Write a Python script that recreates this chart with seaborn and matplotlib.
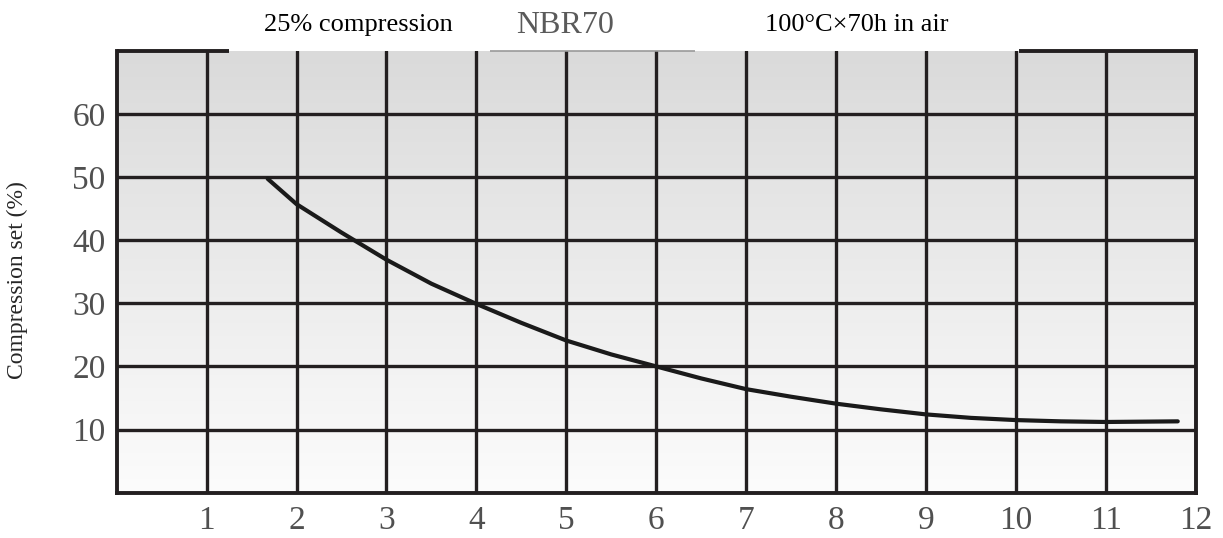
import numpy as np
import pandas as pd
import matplotlib
matplotlib.use("Agg")
import matplotlib.pyplot as plt
from matplotlib.colors import LinearSegmentedColormap
import seaborn as sns

# values
hours = [1.68, 2.0, 2.5, 3.0, 3.5, 4.0, 4.5, 5.0, 5.5, 6.0, 6.5, 7.0, 7.5,
         8.0, 8.5, 9.0, 9.5, 10.0, 10.5, 11.0, 11.8]
comp_set = [49.7, 45.7, 41.2, 36.9, 33.1, 29.9, 26.9, 24.1, 21.9, 20.0, 18.1,
            16.4, 15.2, 14.1, 13.2, 12.4, 11.85, 11.5, 11.3, 11.2, 11.3]
x_ticks = list(range(1, 13))
y_ticks = [10, 20, 30, 40, 50, 60]
titles = ["25% compression", "NBR70", "100\u00b0C\u00d770h in air"]
y_label = "Compression set (%)"

df = pd.DataFrame({"x": hours, "y": comp_set})

sns.set_theme(style="white")
plt.rcParams['font.family'] = ['Liberation Serif', 'DejaVu Serif']

fig = plt.figure(figsize=(12.23, 5.38), dpi=100)
ax = fig.add_axes([0.0954, 0.0842, 0.8823, 0.8216])

grid_col = '#231f20'

# grey-to-white background
bg_cmap = LinearSegmentedColormap.from_list('bg', ['#dadada', '#fcfcfc'])
grad = np.linspace(0, 1, 256).reshape(-1, 1)
ax.imshow(grad, extent=[0, 12, 0, 70], aspect='auto', cmap=bg_cmap,
          origin='upper', zorder=0)

sns.lineplot(data=df, x="x", y="y", ax=ax, color='#1a1a1a', lw=3, zorder=3)

ax.set_xlim(0, 12)
ax.set_ylim(0, 70)
ax.set_xticks(x_ticks)
ax.set_yticks(y_ticks)
ax.set_xticklabels([str(t) for t in x_ticks])
ax.set_yticklabels([str(t) for t in y_ticks])
ax.tick_params(axis='both', length=0, labelsize=24, labelcolor='#505050')
ax.tick_params(axis='x', pad=9)
ax.tick_params(axis='y', pad=8)
ax.set_xlabel('')
ax.set_ylabel('')

ax.set_axisbelow(True)
ax.grid(True, color=grid_col, lw=2.4)

for s in ['left', 'right', 'bottom']:
    ax.spines[s].set_color(grid_col)
    ax.spines[s].set_linewidth(2.8)
    ax.spines[s].set_zorder(4)
ax.spines['top'].set_visible(False)

# top border broken where the heading texts sit
ax.hlines(70, 0, 1.25, color=grid_col, lw=2.8, clip_on=False, zorder=4)
ax.hlines(70, 4.15, 6.43, color='#9a9a9a', lw=1.2, clip_on=False, zorder=4)
ax.hlines(70, 10.03, 12, color=grid_col, lw=2.8, clip_on=False, zorder=4)

fig.text(0.2927, 0.953, titles[0], ha='center', va='center', fontsize=19, color='black')
fig.text(0.462, 0.953, titles[1], ha='center', va='center', fontsize=23, color='#5a5a5a')
fig.text(0.7007, 0.953, titles[2], ha='center', va='center', fontsize=19, color='black')
fig.text(0.0139, 0.4796, y_label, rotation=90, ha='center', va='center', fontsize=17)

fig.savefig('out.png', dpi=100)
